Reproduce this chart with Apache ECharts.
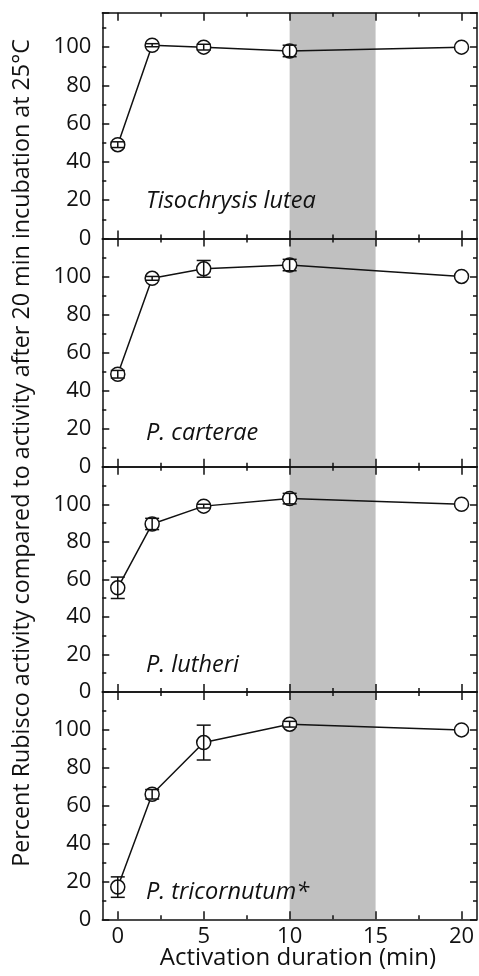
<!DOCTYPE html>
<html>
<head>
<meta charset="utf-8">
<script src="https://cdn.jsdelivr.net/npm/echarts@6/dist/echarts.min.js"></script>
<style>html,body{margin:0;padding:0;background:#fff;}#c{width:479px;height:976px;}</style>
</head>
<body>
<div id="c"></div>
<script>
const xValues = [0, 2, 5, 10, 20];
const species = ['Tisochrysis lutea', 'P. carterae', 'P. lutheri', 'P. tricornutum*'];
const luteaMean = [49, 101, 100, 98, 100];
const luteaErr = [1.5, 0.8, 1.5, 3, 0];
const carteraeMean = [48.6, 99, 104, 106, 100];
const carteraeErr = [2, 1, 4.4, 3, 0];
const lutheriMean = [55.5, 89.5, 99, 103, 100];
const lutheriErr = [5.7, 3, 1, 2.8, 0];
const tricornutumMean = [17, 66, 93.3, 103, 100];
const tricornutumErr = [5.4, 2.5, 9.2, 1.5, 0];
const xMajorTicks = [0, 5, 10, 15, 20];
const xMinorTicks = [2.5, 7.5, 12.5, 17.5];
const shadeRange = [10, 15];
const yAxisTitle = 'Percent Rubisco activity compared to activity after 20 min incubation at 25°C';
const xAxisTitle = 'Activation duration (min)';

const means = [luteaMean, carteraeMean, lutheriMean, tricornutumMean];
const errs = [luteaErr, carteraeErr, lutheriErr, tricornutumErr];
const yMax = [118, 120, 120, 120];
const panels = [
  {top: 12.7, bottom: 238.4},
  {top: 238.4, bottom: 466.7},
  {top: 466.7, bottom: 692},
  {top: 692, bottom: 919.3}
];
const labelPos = [[146, 201.5], [146, 433.5], [146, 665], [146, 892]];
const FONT = '"Open Sans", Lato, sans-serif';
const INK = '#111';

const grids = [], xAxes = [], yAxes = [], series = [], graphics = [];
panels.forEach((p, i) => {
  grids.push({left: 102.3, right: 2, top: p.top, height: p.bottom - p.top});
  const last = i === panels.length - 1;
  const xBase = {gridIndex: i, type: 'value', min: -0.9, max: 20.9, z: 10, splitLine: {show: false}};
  xAxes.push(Object.assign({}, xBase, {
    position: 'bottom',
    axisLine: {show: true, onZero: false, lineStyle: {color: INK, width: 1.5}},
    axisTick: {show: true, inside: true, length: 8, customValues: xMajorTicks, lineStyle: {color: INK, width: 1.5}},
    axisLabel: {show: last, customValues: xMajorTicks, margin: 6, fontSize: 22, color: INK, fontFamily: FONT}
  }));
  xAxes.push(Object.assign({}, xBase, {
    position: 'bottom', axisLine: {show: false, onZero: false},
    axisTick: {show: true, inside: true, length: 4, customValues: xMinorTicks, lineStyle: {color: INK, width: 1.5}},
    axisLabel: {show: false}
  }));
  xAxes.push(Object.assign({}, xBase, {
    position: 'top',
    axisLine: {show: true, onZero: false, lineStyle: {color: INK, width: 1.5}},
    axisTick: {show: true, inside: true, length: 8, customValues: xMajorTicks, lineStyle: {color: INK, width: 1.5}},
    axisLabel: {show: false}
  }));
  xAxes.push(Object.assign({}, xBase, {
    position: 'top', axisLine: {show: false, onZero: false},
    axisTick: {show: true, inside: true, length: 4, customValues: xMinorTicks, lineStyle: {color: INK, width: 1.5}},
    axisLabel: {show: false}
  }));
  const yBase = {gridIndex: i, type: 'value', min: 0, max: yMax[i], z: 10, splitLine: {show: false}};
  yAxes.push(Object.assign({}, yBase, {
    position: 'left', interval: 20,
    axisLine: {show: true, onZero: false, lineStyle: {color: INK, width: 1.5}},
    axisTick: {show: true, inside: true, length: 7, lineStyle: {color: INK, width: 1.5}},
    axisLabel: {show: true, margin: 11, fontSize: 22, color: INK, fontFamily: FONT,
      formatter: v => (v > 100 ? '' : String(v))}
  }));
  yAxes.push(Object.assign({}, yBase, {
    position: 'left', interval: 10, axisLine: {show: false, onZero: false},
    axisTick: {show: true, inside: true, length: 4, lineStyle: {color: INK, width: 1.5}},
    axisLabel: {show: false}
  }));
  yAxes.push(Object.assign({}, yBase, {
    position: 'right', interval: 20,
    axisLine: {show: true, onZero: false, lineStyle: {color: INK, width: 1.5}},
    axisTick: {show: true, inside: true, length: 7, lineStyle: {color: INK, width: 1.5}},
    axisLabel: {show: false}
  }));
  yAxes.push(Object.assign({}, yBase, {
    position: 'right', interval: 10, axisLine: {show: false, onZero: false},
    axisTick: {show: true, inside: true, length: 4, lineStyle: {color: INK, width: 1.5}},
    axisLabel: {show: false}
  }));

  const xi = 4 * i, yi = 4 * i;
  series.push({
    type: 'custom', xAxisIndex: xi, yAxisIndex: yi, z: 1, silent: true,
    data: [[shadeRange[0], shadeRange[1], yMax[i]]],
    renderItem: (params, api) => {
      const a = api.coord([api.value(0), api.value(2)]);
      const b = api.coord([api.value(1), 0]);
      return {type: 'rect', shape: {x: a[0], y: a[1], width: b[0] - a[0], height: b[1] - a[1]},
        style: {fill: '#c0c0c0'}};
    }
  });
  series.push({
    type: 'line', xAxisIndex: xi, yAxisIndex: yi, z: 3,
    data: xValues.map((x, k) => [x, means[i][k]]),
    symbol: 'circle', symbolSize: 14,
    lineStyle: {color: INK, width: 1.5},
    itemStyle: {color: '#fff', borderColor: INK, borderWidth: 1.5},
    animation: false
  });
  series.push({
    type: 'custom', xAxisIndex: xi, yAxisIndex: yi, z: 4,
    data: xValues.map((x, k) => [x, means[i][k] - errs[i][k], means[i][k] + errs[i][k]]).filter((d, k) => errs[i][k] > 0),
    encode: {x: 0, y: [1, 2]},
    renderItem: (params, api) => {
      const x = api.value(0);
      const lo = api.coord([x, api.value(1)]);
      const hi = api.coord([x, api.value(2)]);
      const w = 7;
      const st = {stroke: INK, lineWidth: 1.5};
      return {type: 'group', children: [
        {type: 'line', shape: {x1: lo[0], y1: lo[1], x2: hi[0], y2: hi[1]}, style: st},
        {type: 'line', shape: {x1: lo[0] - w, y1: lo[1], x2: lo[0] + w, y2: lo[1]}, style: st},
        {type: 'line', shape: {x1: hi[0] - w, y1: hi[1], x2: hi[0] + w, y2: hi[1]}, style: st}
      ]};
    },
    animation: false
  });
  graphics.push({
    type: 'text', x: labelPos[i][0], y: labelPos[i][1], z: 20,
    style: {text: species[i], fontSize: 23.5, fontStyle: 'italic', fontFamily: FONT, fill: INK,
      align: 'left', verticalAlign: 'middle'}
  });
});

graphics.push({
  type: 'text', x: 22, y: 453, rotation: Math.PI / 2, z: 20,
  style: {text: yAxisTitle, fontSize: 23.3, fontFamily: FONT, fill: INK, align: 'center', verticalAlign: 'middle'}
});
graphics.push({
  type: 'text', x: 298, y: 958, z: 20,
  style: {text: xAxisTitle, fontSize: 24, fontFamily: FONT, fill: INK, align: 'center', verticalAlign: 'middle'}
});

const chart = echarts.init(document.getElementById('c'), null, {renderer: 'canvas'});
chart.setOption({
  animation: false,
  backgroundColor: '#fff',
  grid: grids, xAxis: xAxes, yAxis: yAxes, series: series, graphic: graphics
});
</script>
</body>
</html>
